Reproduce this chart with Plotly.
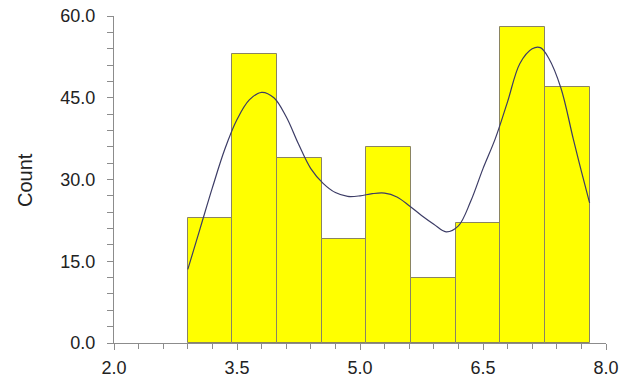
import plotly.graph_objects as go

# Histogram bins (edges) and counts
bin_edges = [2.9, 3.4444, 3.9889, 4.5333, 5.0778, 5.6222, 6.1667, 6.7111, 7.2556, 7.8]
counts = [23, 53, 34, 19, 36, 12, 22, 58, 47]

# Density curve (scaled to counts)
curve_x = [2.9, 3.05, 3.2, 3.35, 3.5, 3.65, 3.8, 3.95, 4.1, 4.25, 4.4, 4.55, 4.7, 4.85,
           5.0, 5.15, 5.3, 5.45, 5.6, 5.75, 5.9, 6.05, 6.2, 6.35, 6.5, 6.65, 6.8, 6.95,
           7.1, 7.2, 7.3, 7.45, 7.6, 7.7, 7.8]
curve_y = [13.5, 21.0, 28.5, 35.5, 41.0, 44.6, 46.0, 45.0, 41.5, 36.5, 32.0, 29.3, 27.6, 26.9,
           27.0, 27.4, 27.5, 26.8, 25.2, 23.4, 21.8, 20.4, 21.5, 26.0, 32.0, 37.5, 44.3, 51.3,
           54.0, 54.2, 52.3, 46.8, 37.5, 31.5, 25.7]

x_ticks = [2.0, 3.5, 5.0, 6.5, 8.0]
y_ticks = [0, 15, 30, 45, 60]

centers = [(bin_edges[i] + bin_edges[i + 1]) / 2 for i in range(len(counts))]
widths = [bin_edges[i + 1] - bin_edges[i] for i in range(len(counts))]

fig = go.Figure()
fig.add_trace(go.Bar(
    x=centers, y=counts, width=widths,
    marker=dict(color="#FFFF00", line=dict(color="#8a8462", width=1)),
    hoverinfo="x+y", showlegend=False,
))
fig.add_trace(go.Scatter(
    x=curve_x, y=curve_y, mode="lines",
    line=dict(color="#3c3c66", width=1.2, shape="spline", smoothing=1.0),
    showlegend=False,
))

font_family = "Liberation Sans, Arial, sans-serif"
axis_font = dict(family=font_family, size=18, color="#222222")

L, R, T, B = 114, 25, 16, 35
W, H = 631, 378

fig.update_layout(
    width=W, height=H,
    margin=dict(l=L, r=R, t=T, b=B),
    paper_bgcolor="white", plot_bgcolor="white",
    bargap=0,
    font=axis_font,
)
fig.update_xaxes(
    range=[2.0, 8.0], tickmode="array", tickvals=x_ticks,
    ticktext=[f"{v:.1f}" for v in x_ticks],
    showgrid=False, zeroline=False, automargin=False,
    showline=True, linecolor="#8c8c8c", linewidth=1,
    ticks="outside", ticklen=6, tickcolor="#8c8c8c", tickwidth=1,
    minor=dict(dtick=0.3, tick0=2.0, ticks="outside", ticklen=5, tickcolor="#8c8c8c", showgrid=False),
    tickfont=axis_font, ticklabelstandoff=2,
)
fig.update_yaxes(
    range=[0, 60], tickmode="array", tickvals=y_ticks,
    ticktext=[f"{v:.1f}" for v in y_ticks],
    showgrid=False, zeroline=False, automargin=False,
    showline=True, linecolor="#8c8c8c", linewidth=1,
    ticks="outside", ticklen=6, tickcolor="#8c8c8c", tickwidth=1,
    minor=dict(dtick=3, tick0=0, ticks="outside", ticklen=6, tickcolor="#8c8c8c", showgrid=False),
    tickfont=axis_font, ticklabelstandoff=8,
)

plot_w = W - L - R
plot_h = H - T - B
fig.add_annotation(
    text="Count", textangle=-90, showarrow=False,
    xref="paper", yref="paper",
    x=(25 - L) / plot_w, y=(H - B - 180) / plot_h,
    xanchor="center", yanchor="middle",
    font=dict(family=font_family, size=20, color="#222222"),
)

fig.write_html(
    "out.html",
    config={"displayModeBar": False},
    post_script="document.body.style.margin='0';document.body.style.overflow='hidden';",
)
